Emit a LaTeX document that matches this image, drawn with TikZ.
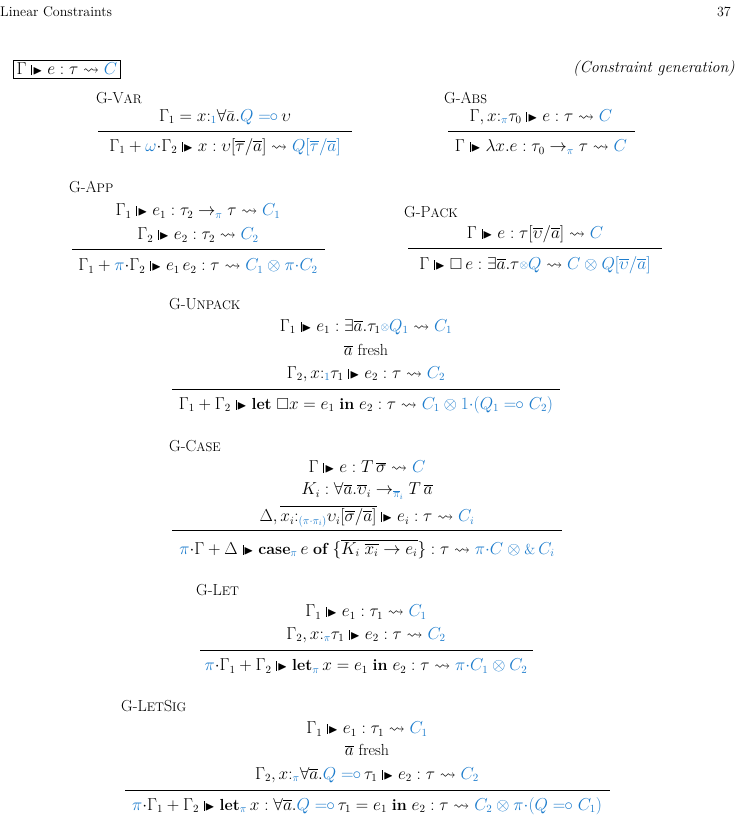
\documentclass[tikz,border=0pt]{standalone}
\usepackage{amsmath,amssymb}
\definecolor{lblue}{RGB}{30,125,205}
\newcommand{\B}[1]{{\color{lblue}#1}}
\newcommand{\gen}{\mathrel{\rule[-0.05ex]{0.5pt}{1.45ex}\kern0.6pt\scalebox{0.8}{$\blacktriangleright$}}}
\newcommand{\lolli}{\mathrel{=\!\!\circ}}
\newcommand{\fuse}{\mathbin{\raisebox{0.15ex}{$\scriptstyle\otimes$}}}
\newcommand{\dt}{\mathord{\cdot}}
\newcommand{\rname}[2]{G-#1{\fontsize{12.5}{15}\selectfont #2}}
\newcommand{\kw}[1]{\textbf{#1}}
\tikzset{
  jt/.style={inner sep=0pt, anchor=center, font=\fontsize{16}{19}\selectfont},
  lab/.style={inner sep=0pt, anchor=west, font=\fontsize{16}{19}\selectfont},
  rl/.style={line width=0.7pt}
}
\begin{document}
\begin{tikzpicture}[x=1pt,y=-1pt]
\useasboundingbox (0,0) rectangle (739,822);
\node[inner sep=0pt,anchor=west,font=\fontsize{14}{16}\selectfont] (hd) at (0,12) {Linear Constraints};
\node[inner sep=0pt,anchor=east,font=\fontsize{14}{16}\selectfont] (pg) at (731,12) {37};
\node[jt,draw,inner sep=3pt,line width=0.7pt] (box) at (67,69) {$\Gamma \gen e:\tau\leadsto \B{C}$};
\node[lab,anchor=east] (cg) at (735,69) {\textit{(Constraint generation)}};
% G-Var
\node[lab] (l1) at (96,98) {\rname{V}{AR}};
\node[jt] (v1) at (225,117) {$\Gamma_1 = x{:}_{\B{1}}\forall\bar a.\B{Q\lolli}\,\upsilon$};
\draw[rl] (98,131) -- (352,131);
\node[jt] (v2) at (225,147) {$\Gamma_1+\B{\omega}\dt\Gamma_2\gen x:\upsilon[\overline{\tau}/\overline{a}]\leadsto\B{Q[\overline{\tau}/\overline{a}]}$};
% G-Abs
\node[lab] (l2) at (444,98) {\rname{A}{BS}};
\node[jt] (a1) at (541,117) {$\Gamma,x{:}_{\B{\pi}}\tau_0\gen e:\tau\leadsto\B{C}$};
\draw[rl] (448,131) -- (635,131);
\node[jt] (a2) at (541,147) {$\Gamma\gen\lambda x.e:\tau_0\to_{\B{\pi}}\tau\leadsto\B{C}$};
% G-App
\node[lab] (l3) at (69,187) {\rname{A}{PP}};
\node[jt] (p1) at (198,211) {$\Gamma_1\gen e_1:\tau_2\to_{\B{\pi}}\tau\leadsto\B{C_1}$};
\node[jt] (p2) at (198,235) {$\Gamma_2\gen e_2:\tau_2\leadsto\B{C_2}$};
\draw[rl] (72,249) -- (325,249);
\node[jt] (p3) at (198,266) {$\Gamma_1+\B{\pi}\dt\Gamma_2\gen e_1\,e_2:\tau\leadsto\B{C_1\otimes\pi\dt C_2}$};
% G-Pack
\node[lab] (l4) at (404,212) {\rname{P}{ACK}};
\node[jt] (k1) at (535,234) {$\Gamma\gen e:\tau[\overline{\upsilon}/\overline{a}]\leadsto\B{C}$};
\draw[rl] (408,248) -- (662,248);
\node[jt] (k2) at (535,265) {$\Gamma\gen\Box\,e:\exists\overline{a}.\tau\B{\fuse Q}\leadsto\B{C\otimes Q[\overline{\upsilon}/\overline{a}]}$};
% G-Unpack
\node[lab] (l5) at (169,304) {\rname{U}{NPACK}};
\node[jt] (u1) at (366,327) {$\Gamma_1\gen e_1:\exists\overline{a}.\tau_1\B{\fuse Q_1}\leadsto\B{C_1}$};
\node[jt] (u2) at (366,350) {$\overline{a}$ fresh};
\node[jt] (u3) at (366,374) {$\Gamma_2,x{:}_{\B{1}}\tau_1\gen e_2:\tau\leadsto\B{C_2}$};
\draw[rl] (172,389) -- (560,389);
\node[jt] (u4) at (366,405) {$\Gamma_1+\Gamma_2\gen\kw{let}\ \Box x=e_1\ \kw{in}\ e_2:\tau\leadsto\B{C_1\otimes 1\dt(Q_1\lolli C_2)}$};
% G-Case
\node[lab] (l6) at (169,446) {\rname{C}{ASE}};
\node[jt] (c1) at (367,467) {$\Gamma\gen e:T\,\overline{\sigma}\leadsto\B{C}$};
\node[jt] (c2) at (367,491) {$K_i:\forall\overline{a}.\overline{\upsilon}_i\to_{\B{\overline{\pi}_i}}T\,\overline{a}$};
\node[jt] (c3) at (367,516) {$\Delta,\overline{x_i{:}_{\B{(\pi\dt\pi_i)}}\upsilon_i[\overline{\sigma}/\overline{a}]}\gen e_i:\tau\leadsto\B{C_i}$};
\draw[rl] (172,530) -- (562,530);
\node[jt] (c4) at (367,549) {$\B{\pi}\dt\Gamma+\Delta\gen\kw{case}_{\B{\pi}}\,e\ \kw{of}\ \{\overline{K_i\;\overline{x_i}\to e_i}\}:\tau\leadsto\B{\pi\dt C\otimes\mathop{\text{\Large\&}}C_i}$};
% G-Let
\node[lab] (l7) at (196,590) {\rname{L}{ET}};
\node[jt] (e1) at (366,612) {$\Gamma_1\gen e_1:\tau_1\leadsto\B{C_1}$};
\node[jt] (e2) at (366,635) {$\Gamma_2,x{:}_{\B{\pi}}\tau_1\gen e_2:\tau\leadsto\B{C_2}$};
\draw[rl] (200,650) -- (533,650);
\node[jt] (e3) at (366,666) {$\B{\pi}\dt\Gamma_1+\Gamma_2\gen\kw{let}_{\B{\pi}}\,x=e_1\ \kw{in}\ e_2:\tau\leadsto\B{\pi\dt C_1\otimes C_2}$};
% G-LetSig
\node[lab] (l8) at (121,706) {\rname{L}{ET}S{\fontsize{12.5}{15}\selectfont IG}};
\node[jt] (s1) at (367,729) {$\Gamma_1\gen e_1:\tau_1\leadsto\B{C_1}$};
\node[jt] (s2) at (367,750) {$\overline{a}$ fresh};
\node[jt] (s3) at (367,775) {$\Gamma_2,x{:}_{\B{\pi}}\forall\overline{a}.\B{Q\lolli}\,\tau_1\gen e_2:\tau\leadsto\B{C_2}$};
\draw[rl] (125,790) -- (610,790);
\node[jt] (s4) at (367,806) {$\B{\pi}\dt\Gamma_1+\Gamma_2\gen\kw{let}_{\B{\pi}}\,x:\forall\overline{a}.\B{Q\lolli}\,\tau_1=e_1\ \kw{in}\ e_2:\tau\leadsto\B{C_2\otimes\pi\dt(Q\lolli C_1)}$};
\end{tikzpicture}
\end{document}
